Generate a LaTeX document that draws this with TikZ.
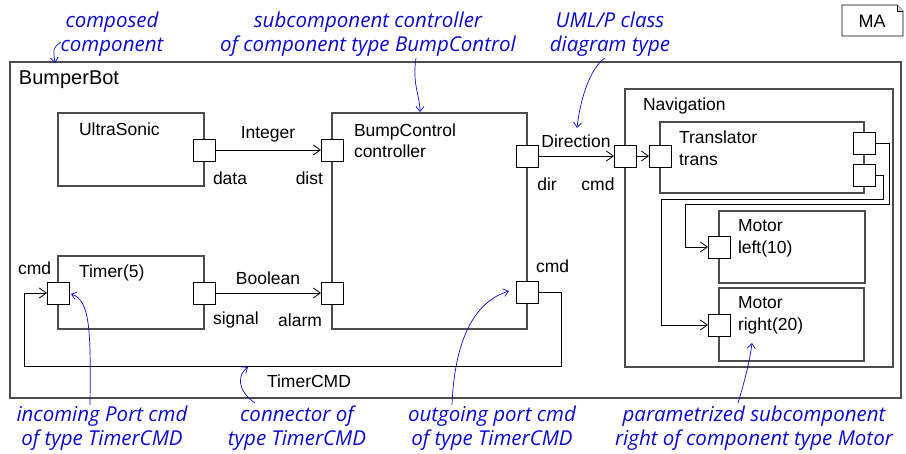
\documentclass[tikz,border=0pt]{standalone}
\usepackage{fontspec}
\setmainfont{Liberation Sans}
\newfontfamily\notefont{Open Sans}
\usepackage{tikz}
\usetikzlibrary{arrows.meta,positioning}
\definecolor{notecol}{RGB}{10,10,210}

\begin{document}
\begin{tikzpicture} [x=1pt,y=-1pt,
    >={Straight Barb[length=7pt,width=10pt]},
    every node/.style={inner sep=0pt, outer sep=0pt},
    comp/.style={rectangle, draw=black!70, line width=1.1pt, anchor=north west},
    port/.style={rectangle, draw=black, fill=white, line width=0.8pt,
    minimum size=22pt},
    txt/.style={font=\fontsize{17.5}{21.5}\selectfont, align=left},
    note/.style={font=\notefont\itshape\fontsize{20.5}{24}\selectfont,
    text=notecol, align=center},
    con/.style={->, line width=0.8pt},
    hint/.style={-{Straight Barb[length=5pt,width=8pt]}, draw=notecol, line width=0.7pt}
    ]
    \useasboundingbox (0,0) rectangle (906,454);

    % components
    \node (bot) [comp, minimum width=891pt, minimum height=336pt] at (10,62) {};
    \node (us) [comp, minimum width=146pt, minimum height=73pt] at (58,113) {};
    \node (bc) [comp, minimum width=195pt, minimum height=216pt] at (332,113) {};
    \node (ti) [comp, minimum width=146pt, minimum height=73pt] at (58,256) {};
    \node (nav) [comp, minimum width=268pt, minimum height=278pt] at (625,89) {};
    \node (tr) [comp, minimum width=204pt, minimum height=71pt] at (660,122) {};
    \node (ml) [comp, minimum width=146pt, minimum height=72pt] at (719,211) {};
    \node (mr) [comp, minimum width=145pt, minimum height=73pt] at (719,288) {};

    \node (botname) [txt, anchor=west, font=\fontsize{20}{24}\selectfont] at (19,80) {BumperBot};
    \node (usname) [txt, anchor=west] at (79,129) {UltraSonic};
    \node (bcname) [txt, anchor=west] at (354,140.5) {BumpControl\\controller};
    \node (tiname) [txt, anchor=west] at (79,273) {Timer(5)};
    \node (navname) [txt, anchor=west] at (643,106) {Navigation};
    \node (trname) [txt, anchor=west] at (679,148) {Translator\\trans};
    \node (mlname) [txt, anchor=west] at (738,238.5) {Motor\\left(10)};
    \node (mrname) [txt, anchor=west] at (738,315.5) {Motor\\right(20)};

    % ports
    \node (usdata) [port] at (204,150) {};
    \node (bcdist) [port] at (332,150) {};
    \node (bcdir) [port] at (527,156) {};
    \node (bcalarm) [port] at (332,293) {};
    \node (bccmd) [port] at (527,292) {};
    \node (ticmd) [port] at (58,293) {};
    \node (tisignal) [port] at (204,293) {};
    \node (navcmd) [port] at (625,156) {};
    \node (trin) [port] at (660,156) {};
    \node (trout1) [port] at (864,143) {};
    \node (trout2) [port] at (864,175) {};
    \node (mlin) [port] at (719,247) {};
    \node (mrin) [port] at (719,325) {};

    \node (lbdata) [txt, anchor=west] at (213,178) {data};
    \node (lbdist) [txt, anchor=east] at (323,178) {dist};
    \node (lbdir) [txt] at (547,184) {dir};
    \node (lbnavcmd) [txt] at (598,184) {cmd};
    \node (lbsignal) [txt, anchor=west] at (213,320) {signal};
    \node (lbalarm) [txt, anchor=east] at (322,320) {alarm};
    \node (lbticmd) [txt, anchor=west] at (18,268) {cmd};
    \node (lbbccmd) [txt, anchor=west] at (536,266) {cmd};

    % connectors
    \draw [con] (usdata) -- (bcdist) node [txt, midway, above=8pt] (tyint) {Integer};
    \draw [con] (tisignal) -- (bcalarm) node [txt, midway, above=8pt] (tybool) {Boolean};
    \draw [con] (bcdir) -- (navcmd) node [txt, midway, above=8pt] (tydir) {Direction};
    \draw [con] (navcmd) -- (trin);
    \draw [con] (trout1.east) -- (889,143) -- (889,204) -- (685,204) |- (mlin.west);
    \draw [con] (trout2.east) -- (883,175) -- (883,199) -- (661,199) |- (mrin.west);
    \draw [con] (bccmd.east) -- (561,292) -- (561,366) -- (24,366) |- (ticmd.west);
    \node (tycmd) [txt] at (309,381) {TimerCMD};

    % model tag
    \node (ma) [txt, font=\fontsize{18}{21}\selectfont] at (872,21) {MA};
    \draw [line width=0.7pt] (842,5) -- (897,5) -- (903,11) -- (903,36) -- (842,36) -- cycle;
    \draw [line width=0.6pt, fill=black!15] (897,5) -- (897,11) -- (903,11);

    % annotations
    \node (n1) [note] at (112,34) {composed\\component};
    \node (n2) [note] at (368,34) {subcomponent controller\\of component type BumpControl};
    \node (n3) [note] at (610,34) {UML/P class\\diagram type};
    \node (n4) [note] at (102,428) {incoming Port cmd\\of type TimerCMD};
    \node (n5) [note] at (297,428) {connector of\\type TimerCMD};
    \node (n6) [note] at (492,428) {outgoing port cmd\\of type TimerCMD};
    \node (n7) [note] at (754,428) {parametrized subcomponent\\right of component type Motor};

    \draw [hint] (61,42) .. controls (53,48) .. (55,63);
    \draw [hint] (416,58) .. controls (412,85) and (420,95) .. (420,112);
    \draw [hint] (605,58) .. controls (590,68) and (580,100) .. (577,128);
    \draw [hint] (90,405) .. controls (91,330) and (90,300) .. (71,294);
    \draw [hint] (255,403) .. controls (236,390) and (238,374) .. (248,367);
    \draw [hint] (452,405) .. controls (455,330) and (480,300) .. (509,291);
    \draw [hint] (738,403) .. controls (745,380) and (750,360) .. (752,343);
\end{tikzpicture}
\end{document}
